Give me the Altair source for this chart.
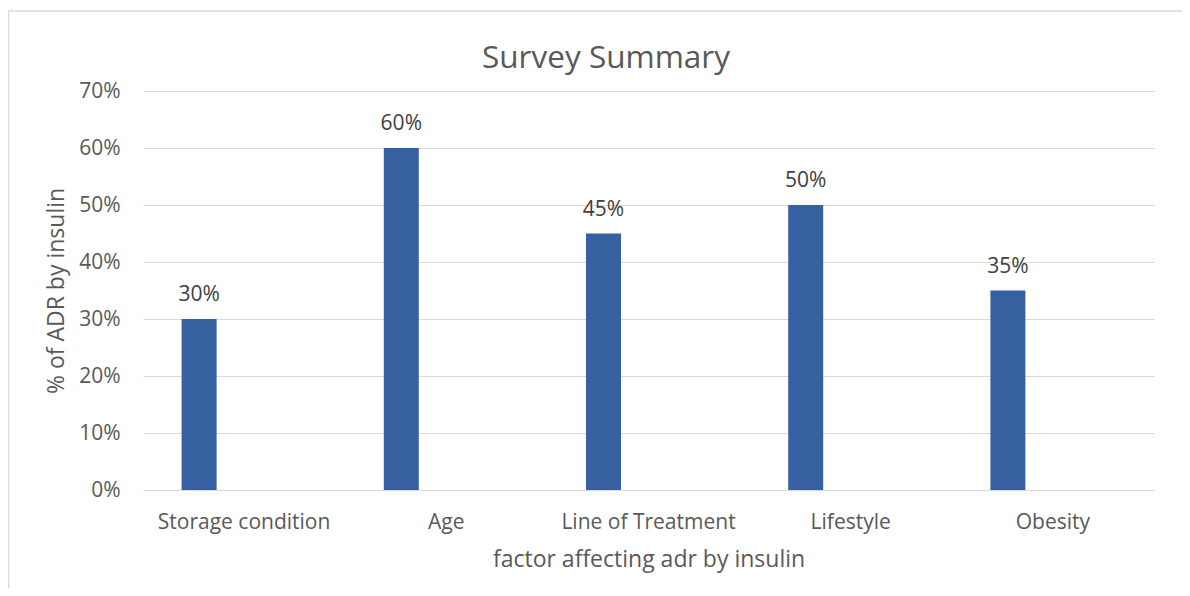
import altair as alt
import pandas as pd

categories = ["Storage condition", "Age", "Line of Treatment", "Lifestyle", "Obesity"]
values = [0.30, 0.60, 0.45, 0.50, 0.35]
y_ticks = [0.0, 0.1, 0.2, 0.3, 0.4, 0.5, 0.6, 0.7]
title_text = ["Survey Summary"]

df = pd.DataFrame({"factor": categories, "pct": values})
FONT = "Open Sans"
GRAY = "#595959"
GRID = "#d9d9d9"
BAR = "#36609f"
W, H = 1011, 399

x_enc = alt.X(
    "factor:N",
    sort=categories,
    scale=alt.Scale(paddingInner=0, paddingOuter=0),
    axis=alt.Axis(
        title="factor affecting adr by insulin",
        labelAngle=0, ticks=False, domain=True, domainColor=GRID,
        labelFont=FONT, labelFontSize=21, labelColor=GRAY, labelPadding=38,
        labelBaseline="alphabetic",
        titleFont=FONT, titleFontSize=23, titleColor=GRAY, titleFontWeight="normal",
        titleBaseline="alphabetic", titleY=76,
    ),
)
y_enc = alt.Y(
    "pct:Q",
    scale=alt.Scale(domain=[0, 0.7], nice=False),
    axis=alt.Axis(
        title="% of ADR by insulin", format=".0%", values=y_ticks,
        grid=True, gridColor=GRID, gridWidth=1, domain=False, ticks=False,
        labelFont=FONT, labelFontSize=21, labelColor=GRAY, labelPadding=23,
        titleFont=FONT, titleFontSize=23, titleColor=GRAY, titleFontWeight="normal",
        titleAngle=-90, titleAlign="center", titleBaseline="alphabetic",
        titleX=-80, titleY=H / 2,
    ),
)

bars = alt.Chart(df).mark_bar(size=35, xOffset=-45, color=BAR).encode(x=x_enc, y=y_enc)
labels = alt.Chart(df).mark_text(
    xOffset=-45, dy=-18, baseline="alphabetic", fontSize=21, color="#404040", font=FONT
).encode(x=alt.X("factor:N", sort=categories), y="pct:Q", text=alt.Text("pct:Q", format=".0%"))

one = pd.DataFrame({"t": title_text})
border_top = alt.Chart(one).mark_rule(color=GRID, strokeWidth=1.5).encode(
    x=alt.value(-135), x2=alt.value(W + 40), y=alt.value(-80)
)
border_left = alt.Chart(one).mark_rule(color=GRID, strokeWidth=1.5).encode(
    x=alt.value(-134.5), y=alt.value(-80), y2=alt.value(H + 120)
)
title = alt.Chart(one).mark_text(
    font=FONT, fontSize=31.5, color=GRAY, align="center", baseline="alphabetic"
).encode(x=alt.value(463), y=alt.value(-23), text="t:N")

chart = alt.layer(border_top, border_left, bars, labels, title).properties(
    width=W, height=H,
    autosize=alt.AutoSizeParams(type="none"),
    padding={"left": 135, "top": 83, "right": 28, "bottom": 98},
).configure_view(stroke=None)

chart.save("out.html", embed_options={"renderer": "svg", "actions": False})
